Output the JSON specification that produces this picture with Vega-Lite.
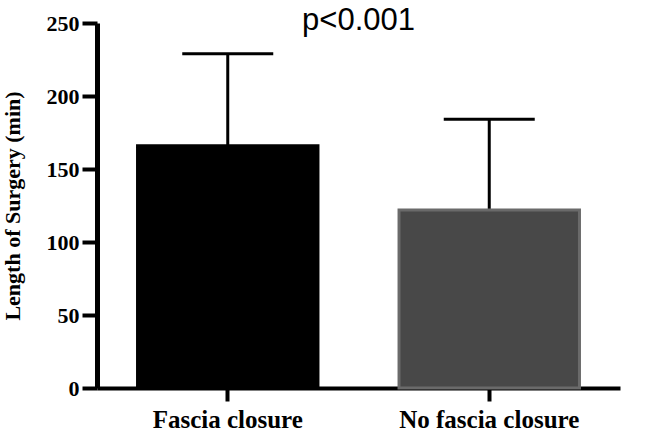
{
  "$schema": "https://vega.github.io/schema/vega-lite/v6.json",
  "autosize": "none",
  "width": 523,
  "height": 365,
  "padding": {"left": 97, "top": 23, "right": 29, "bottom": 44},
  "background": "white",
  "title": {"text": "p<0.001", "font": "Liberation Sans", "fontSize": 31, "fontWeight": "normal", "color": "black", "anchor": "middle", "baseline": "bottom", "offset": -23, "dy": 33},
  "data": {"values": [
    {"group": "Fascia closure", "mean": 166, "upper": 229},
    {"group": "No fascia closure", "mean": 122, "upper": 184}
  ]},
  "config": {"view": {"stroke": null}},
  "encoding": {
    "x": {"field": "group", "type": "nominal", "sort": null,
      "scale": {"paddingInner": 0.31, "paddingOuter": 0.155},
      "axis": {"title": null, "labelAngle": 0, "labelLimit": 400, "labelFont": "Liberation Serif", "labelFontWeight": "bold", "labelFontSize": 25, "labelColor": "black", "labelPadding": 6, "domainColor": "black", "domainWidth": 4, "tickColor": "black", "tickWidth": 4, "tickSize": 13}}
  },
  "layer": [
    {"mark": {"type": "rule", "strokeWidth": 3, "color": "black"},
     "encoding": {"y": {"field": "mean", "type": "quantitative"}, "y2": {"field": "upper"}}},
    {"mark": {"type": "bar", "strokeWidth": 3},
     "encoding": {
       "y": {"field": "mean", "type": "quantitative",
         "scale": {"domain": [0, 250], "nice": false},
         "axis": {"title": "Length of Surgery (min)", "titleFont": "Liberation Serif", "titleFontWeight": "bold", "titleFontSize": 22, "titleColor": "black", "titlePadding": 22, "values": [0, 50, 100, 150, 200, 250], "grid": false, "labelFont": "Liberation Serif", "labelFontWeight": "bold", "labelFontSize": 22, "labelColor": "black", "labelPadding": 3, "domainColor": "black", "domainWidth": 5, "tickColor": "black", "tickWidth": 4, "tickSize": 15}},
       "fill": {"field": "group", "type": "nominal", "scale": {"range": ["#000000", "#484848"]}, "legend": null},
       "stroke": {"field": "group", "type": "nominal", "scale": {"range": ["#000000", "#6a6a6a"]}, "legend": null}
     }},
    {"mark": {"type": "tick", "thickness": 3, "size": 91, "color": "black", "opacity": 1},
     "encoding": {"y": {"field": "upper", "type": "quantitative"}}}
  ]
}
